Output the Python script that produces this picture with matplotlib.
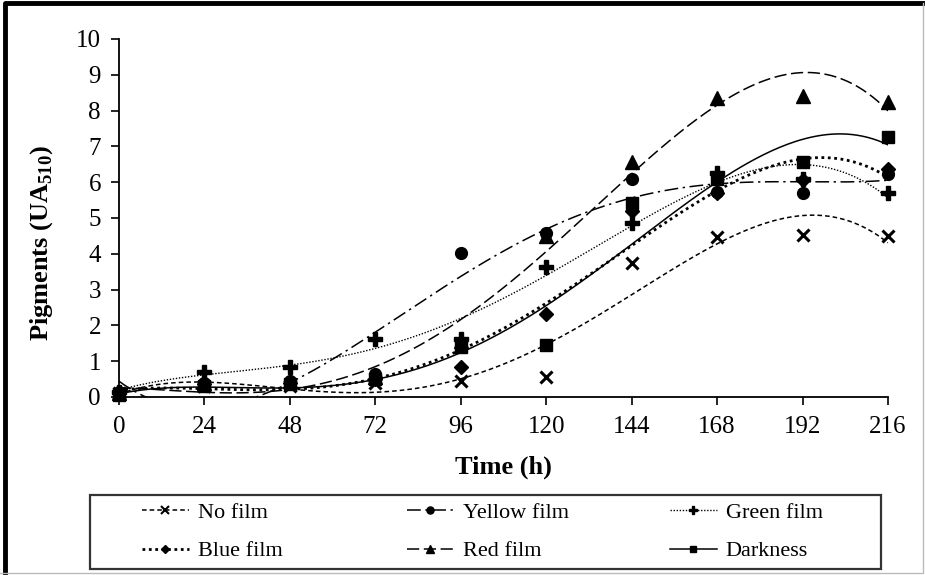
import numpy as np
import matplotlib
matplotlib.use("Agg")
import matplotlib.pyplot as plt
from matplotlib.lines import Line2D
from matplotlib.patches import Rectangle

plt.rcParams['font.family'] = ['Liberation Serif', 'DejaVu Serif']
plt.rcParams['mathtext.fontset'] = 'custom'
plt.rcParams['mathtext.rm'] = 'Liberation Serif'
plt.rcParams['mathtext.bf'] = 'Liberation Serif:bold'

# sampling times (h)
hours = [0, 24, 48, 72, 96, 120, 144, 168, 192, 216]

# pigment readings (UA510) per treatment
no_film = [0.10, 0.30, 0.30, 0.40, 0.45, 0.56, 3.75, 4.46, 4.52, 4.49]
yellow_film = [0.15, 0.40, 0.45, 0.65, 4.01, 4.57, 6.10, 5.73, 5.69, 6.23]
green_film = [0.15, 0.70, 0.84, 1.63, 1.63, 3.63, 4.85, 6.25, 6.10, 5.70]
blue_film = [0.10, 0.35, 0.40, 0.50, 0.84, 2.33, 5.20, 5.70, 6.06, 6.38]
red_film = [0.10, 0.40, 0.45, 0.55, 1.55, 4.50, 6.57, 8.34, 8.41, 8.25]
darkness = [0.05, 0.30, 0.35, 0.50, 1.40, 1.45, 5.42, 6.10, 6.57, 7.27]

names = ["No film", "Yellow film", "Green film", "Blue film", "Red film", "Darkness"]
series = [no_film, yellow_film, green_film, blue_film, red_film, darkness]
markers = ["x", "o", "P", "D", "^", "s"]
msizes = [9, 8.5, 10, 7, 9.5, 8]
styles = [(0, (3, 2)), (0, (9, 3, 1.5, 3)), (0, (1, 1.2)), (0, (1, 1.3)),
          (0, (8, 3)), "-"]
widths = [1.1, 1.1, 1.0, 2.0, 1.1, 1.1]

fig = plt.figure(figsize=(9.25, 5.75), dpi=100)
ax = fig.add_axes([0.1286, 0.3096, 0.8314, 0.6226])

t_fine = np.linspace(0, 216, 300)
handles = []
for name, vals, mk, ms, ls, lw in zip(names, series, markers, msizes, styles, widths):
    # polynomial trendline (order 4) like the spreadsheet one
    coef = np.polyfit(hours, vals, 4)
    ax.plot(t_fine, np.polyval(coef, t_fine), color="black", linestyle=ls, linewidth=lw)
    ax.plot(hours, vals, linestyle="none", marker=mk, markersize=ms,
            color="black", markeredgewidth=2.2 if mk == "x" else 1, clip_on=False)
    handles.append(Line2D([], [], color="black", linestyle=ls, linewidth=lw, marker=mk,
                          markersize=ms * 0.6, markeredgewidth=1.5 if mk == "x" else 1))

ax.set_xlim(0, 216)
ax.set_ylim(0, 10)
ax.set_xticks(hours)
ax.set_yticks(range(0, 11))
ax.spines["top"].set_visible(False)
ax.spines["right"].set_visible(False)
ax.spines["left"].set_linewidth(1.3)
ax.spines["bottom"].set_linewidth(1.3)
ax.tick_params(direction="out", length=6, width=1.2, labelsize=18)
ax.tick_params(axis="x", pad=8)
ax.tick_params(axis="y", pad=7)
ax.set_xlabel("Time (h)", fontsize=19, fontweight="bold")
ax.xaxis.set_label_coords(0.5, -0.165)
ax.set_ylabel("Pigments (UA$_{\\mathbf{510}}$)", fontsize=19, fontweight="bold")
ax.yaxis.set_label_coords(-0.083, 0.43)

# legend: three columns, two rows (row-wise order as in the original)
col_x = [142, 407, 670]
for c, x in enumerate(col_x):
    idx = [c, c + 3]
    leg = fig.legend([handles[i] for i in idx], [names[i] for i in idx],
                     loc="center left", bbox_to_anchor=(x / 925, 1 - 532 / 575),
                     fontsize=16, frameon=False, handlelength=2.1, borderaxespad=0.0,
                     borderpad=0.0, labelspacing=0.8, handletextpad=0.4)

fig.patches.append(Rectangle((90 / 925, 0.0104), 791 / 925, 0.1287, transform=fig.transFigure,
                             fill=False, edgecolor="#333333", linewidth=1.6))

# outer frame: heavy on left/top, faint on right/bottom
fig.add_artist(Line2D([0.005, 0.005, 0.998], [0.0, 0.994, 0.994], transform=fig.transFigure,
                      color="black", linewidth=3.5))
fig.add_artist(Line2D([0.998, 0.998, 0.0], [0.994, 0.004, 0.004], transform=fig.transFigure,
                      color="#bbbbbb", linewidth=1.0))

fig.savefig("out.png", dpi=100)
